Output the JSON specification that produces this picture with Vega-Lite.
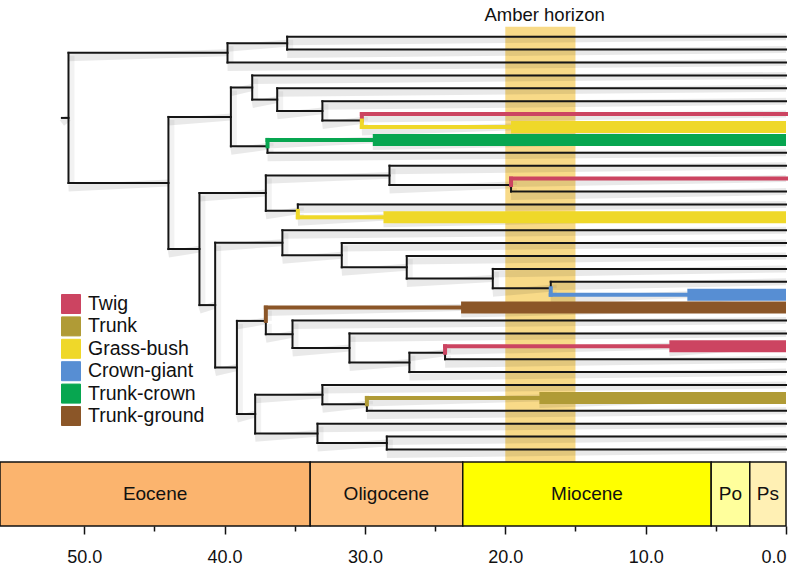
{
  "$schema": "https://vega.github.io/schema/vega-lite/v6.json",
  "autosize": {"type": "none"},
  "width": 786,
  "height": 526,
  "padding": {"left": 0, "top": 0, "right": 24, "bottom": 44},
  "background": "white",
  "config": {"view": {"stroke": null}, "font": "Liberation Sans"},
  "datasets": {
    "tree": [
      {"a":51.59,"b":51.12,"y":6.296,"y2":6.296,"s":"none","w":"line"},
      {"a":51.12,"b":39.79,"y":1.25,"y2":1.25,"s":"none","w":"line"},
      {"a":51.12,"b":44.0,"y":11.342,"y2":11.342,"s":"none","w":"line"},
      {"a":39.79,"b":35.54,"y":0.5,"y2":0.5,"s":"none","w":"line"},
      {"a":35.54,"b":0,"y":0,"y2":0,"s":"none","w":"line"},
      {"a":35.54,"b":0,"y":1,"y2":1,"s":"none","w":"line"},
      {"a":39.79,"b":0,"y":2,"y2":2,"s":"none","w":"line"},
      {"a":44.0,"b":39.55,"y":6.219,"y2":6.219,"s":"none","w":"line"},
      {"a":44.0,"b":41.79,"y":16.465,"y2":16.465,"s":"none","w":"line"},
      {"a":39.55,"b":38.03,"y":3.938,"y2":3.938,"s":"none","w":"line"},
      {"a":39.55,"b":36.94,"y":8.5,"y2":8.5,"s":"none","w":"line"},
      {"a":38.03,"b":0,"y":3,"y2":3,"s":"none","w":"line"},
      {"a":38.03,"b":36.25,"y":4.875,"y2":4.875,"s":"none","w":"line"},
      {"a":36.25,"b":0,"y":4,"y2":4,"s":"none","w":"line"},
      {"a":36.25,"b":33.03,"y":5.75,"y2":5.75,"s":"none","w":"line"},
      {"a":33.03,"b":0,"y":5,"y2":5,"s":"none","w":"line"},
      {"a":33.03,"b":30.22,"y":6.5,"y2":6.5,"s":"none","w":"line"},
      {"a":36.94,"b":0,"y":9,"y2":9,"s":"none","w":"line"},
      {"a":41.79,"b":37.06,"y":12.125,"y2":12.125,"s":"none","w":"line"},
      {"a":41.79,"b":40.67,"y":20.805,"y2":20.805,"s":"none","w":"line"},
      {"a":37.06,"b":28.25,"y":10.75,"y2":10.75,"s":"none","w":"line"},
      {"a":37.06,"b":34.78,"y":13.5,"y2":13.5,"s":"none","w":"line"},
      {"a":28.25,"b":0,"y":10,"y2":10,"s":"none","w":"line"},
      {"a":28.25,"b":19.59,"y":11.5,"y2":11.5,"s":"none","w":"line"},
      {"a":19.59,"b":0,"y":12,"y2":12,"s":"none","w":"line"},
      {"a":34.78,"b":0,"y":13,"y2":13,"s":"none","w":"line"},
      {"a":40.67,"b":35.88,"y":15.969,"y2":15.969,"s":"none","w":"line"},
      {"a":40.67,"b":39.12,"y":25.641,"y2":25.641,"s":"none","w":"line"},
      {"a":35.88,"b":0,"y":15,"y2":15,"s":"none","w":"line"},
      {"a":35.88,"b":31.65,"y":16.938,"y2":16.938,"s":"none","w":"line"},
      {"a":31.65,"b":0,"y":16,"y2":16,"s":"none","w":"line"},
      {"a":31.65,"b":27.02,"y":17.875,"y2":17.875,"s":"none","w":"line"},
      {"a":27.02,"b":0,"y":17,"y2":17,"s":"none","w":"line"},
      {"a":27.02,"b":20.89,"y":18.75,"y2":18.75,"s":"none","w":"line"},
      {"a":20.89,"b":0,"y":18,"y2":18,"s":"none","w":"line"},
      {"a":20.89,"b":16.76,"y":19.5,"y2":19.5,"s":"none","w":"line"},
      {"a":16.76,"b":0,"y":19,"y2":19,"s":"none","w":"line"},
      {"a":39.12,"b":37.06,"y":22.031,"y2":22.031,"s":"none","w":"line"},
      {"a":39.12,"b":37.82,"y":29.25,"y2":29.25,"s":"none","w":"line"},
      {"a":37.06,"b":35.16,"y":23.063,"y2":23.063,"s":"none","w":"line"},
      {"a":35.16,"b":0,"y":22,"y2":22,"s":"none","w":"line"},
      {"a":35.16,"b":31.1,"y":24.125,"y2":24.125,"s":"none","w":"line"},
      {"a":31.1,"b":0,"y":23,"y2":23,"s":"none","w":"line"},
      {"a":31.1,"b":26.83,"y":25.25,"y2":25.25,"s":"none","w":"line"},
      {"a":26.83,"b":24.29,"y":24.5,"y2":24.5,"s":"none","w":"line"},
      {"a":26.83,"b":0,"y":26,"y2":26,"s":"none","w":"line"},
      {"a":24.29,"b":0,"y":25,"y2":25,"s":"none","w":"line"},
      {"a":37.82,"b":33.03,"y":27.75,"y2":27.75,"s":"none","w":"line"},
      {"a":37.82,"b":33.38,"y":30.75,"y2":30.75,"s":"none","w":"line"},
      {"a":33.03,"b":0,"y":27,"y2":27,"s":"none","w":"line"},
      {"a":33.03,"b":29.86,"y":28.5,"y2":28.5,"s":"none","w":"line"},
      {"a":29.86,"b":0,"y":29,"y2":29,"s":"none","w":"line"},
      {"a":33.38,"b":0,"y":30,"y2":30,"s":"none","w":"line"},
      {"a":33.38,"b":28.44,"y":31.5,"y2":31.5,"s":"none","w":"line"},
      {"a":28.44,"b":0,"y":31,"y2":31,"s":"none","w":"line"},
      {"a":28.44,"b":0,"y":32,"y2":32,"s":"none","w":"line"},
      {"a":51.12,"b":51.12,"y":1.25,"y2":11.342,"s":"none","w":"line"},
      {"a":39.79,"b":39.79,"y":0.5,"y2":2,"s":"none","w":"line"},
      {"a":35.54,"b":35.54,"y":0,"y2":1,"s":"none","w":"line"},
      {"a":44.0,"b":44.0,"y":6.219,"y2":16.465,"s":"none","w":"line"},
      {"a":39.55,"b":39.55,"y":3.938,"y2":8.5,"s":"none","w":"line"},
      {"a":38.03,"b":38.03,"y":3,"y2":4.875,"s":"none","w":"line"},
      {"a":36.25,"b":36.25,"y":4,"y2":5.75,"s":"none","w":"line"},
      {"a":33.03,"b":33.03,"y":5,"y2":6.5,"s":"none","w":"line"},
      {"a":36.94,"b":36.94,"y":8.5,"y2":9,"s":"none","w":"line"},
      {"a":41.79,"b":41.79,"y":12.125,"y2":20.805,"s":"none","w":"line"},
      {"a":37.06,"b":37.06,"y":10.75,"y2":13.5,"s":"none","w":"line"},
      {"a":28.25,"b":28.25,"y":10,"y2":11.5,"s":"none","w":"line"},
      {"a":19.59,"b":19.59,"y":11.5,"y2":12,"s":"none","w":"line"},
      {"a":34.78,"b":34.78,"y":13,"y2":13.5,"s":"none","w":"line"},
      {"a":40.67,"b":40.67,"y":15.969,"y2":25.641,"s":"none","w":"line"},
      {"a":35.88,"b":35.88,"y":15,"y2":16.938,"s":"none","w":"line"},
      {"a":31.65,"b":31.65,"y":16,"y2":17.875,"s":"none","w":"line"},
      {"a":27.02,"b":27.02,"y":17,"y2":18.75,"s":"none","w":"line"},
      {"a":20.89,"b":20.89,"y":18,"y2":19.5,"s":"none","w":"line"},
      {"a":16.76,"b":16.76,"y":19,"y2":19.5,"s":"none","w":"line"},
      {"a":39.12,"b":39.12,"y":22.031,"y2":29.25,"s":"none","w":"line"},
      {"a":37.06,"b":37.06,"y":22.031,"y2":23.063,"s":"none","w":"line"},
      {"a":35.16,"b":35.16,"y":22,"y2":24.125,"s":"none","w":"line"},
      {"a":31.1,"b":31.1,"y":23,"y2":25.25,"s":"none","w":"line"},
      {"a":26.83,"b":26.83,"y":24.5,"y2":26,"s":"none","w":"line"},
      {"a":24.29,"b":24.29,"y":24.5,"y2":25,"s":"none","w":"line"},
      {"a":37.82,"b":37.82,"y":27.75,"y2":30.75,"s":"none","w":"line"},
      {"a":33.03,"b":33.03,"y":27,"y2":28.5,"s":"none","w":"line"},
      {"a":29.86,"b":29.86,"y":28.5,"y2":29,"s":"none","w":"line"},
      {"a":33.38,"b":33.38,"y":30,"y2":31.5,"s":"none","w":"line"},
      {"a":28.44,"b":28.44,"y":31,"y2":32,"s":"none","w":"line"},
      {"a":30.22,"b":0,"y":6,"y2":6,"s":"Twig","w":"thin"},
      {"a":30.22,"b":19.59,"y":7,"y2":7,"s":"Grass-bush","w":"thin"},
      {"a":36.94,"b":29.44,"y":8,"y2":8,"s":"Trunk-crown","w":"thin"},
      {"a":19.59,"b":0,"y":11,"y2":11,"s":"Twig","w":"thin"},
      {"a":34.78,"b":28.68,"y":14,"y2":14,"s":"Grass-bush","w":"thin"},
      {"a":16.76,"b":7.03,"y":20,"y2":20,"s":"Crown-giant","w":"thin"},
      {"a":37.06,"b":23.15,"y":21,"y2":21,"s":"Trunk-ground","w":"thin"},
      {"a":24.29,"b":8.31,"y":24,"y2":24,"s":"Twig","w":"thin"},
      {"a":29.86,"b":17.57,"y":28,"y2":28,"s":"Trunk","w":"thin"},
      {"a":30.22,"b":30.22,"y":6,"y2":6.5,"s":"Twig","w":"thin"},
      {"a":30.22,"b":30.22,"y":6.5,"y2":7,"s":"Grass-bush","w":"thin"},
      {"a":36.94,"b":36.94,"y":8,"y2":8.5,"s":"Trunk-crown","w":"thin"},
      {"a":19.59,"b":19.59,"y":11,"y2":11.5,"s":"Twig","w":"thin"},
      {"a":34.78,"b":34.78,"y":13.5,"y2":14,"s":"Grass-bush","w":"thin"},
      {"a":16.76,"b":16.76,"y":19.5,"y2":20,"s":"Crown-giant","w":"thin"},
      {"a":37.06,"b":37.06,"y":21,"y2":22.031,"s":"Trunk-ground","w":"thin"},
      {"a":24.29,"b":24.29,"y":24,"y2":24.5,"s":"Twig","w":"thin"},
      {"a":29.86,"b":29.86,"y":28,"y2":28.5,"s":"Trunk","w":"thin"},
      {"a":19.59,"b":0,"y":7,"y2":7,"s":"Grass-bush","w":"thick"},
      {"a":29.44,"b":0,"y":8,"y2":8,"s":"Trunk-crown","w":"thick"},
      {"a":28.68,"b":0,"y":14,"y2":14,"s":"Grass-bush","w":"thick"},
      {"a":7.03,"b":0,"y":20,"y2":20,"s":"Crown-giant","w":"thick"},
      {"a":23.15,"b":0,"y":21,"y2":21,"s":"Trunk-ground","w":"thick"},
      {"a":8.31,"b":0,"y":24,"y2":24,"s":"Twig","w":"thick"},
      {"a":17.57,"b":0,"y":28,"y2":28,"s":"Trunk","w":"thick"}
    ],
    "epochs": [
      {"name":"Eocene","start":56,"end":33.9,"mid":44.95,"top":32.97,"bot":37.93,"ty":35.45},
      {"name":"Oligocene","start":33.9,"end":23.03,"mid":28.47,"top":32.97,"bot":37.93,"ty":35.45},
      {"name":"Miocene","start":23.03,"end":5.33,"mid":14.18,"top":32.97,"bot":37.93,"ty":35.45},
      {"name":"Po","start":5.33,"end":2.58,"mid":3.955,"top":32.97,"bot":37.93,"ty":35.45},
      {"name":"Ps","start":2.58,"end":0,"mid":1.29,"top":32.97,"bot":37.93,"ty":35.45}
    ],
    "band": [{"a":20,"b":15,"y":-0.775,"y2":32.97,"label":"Amber horizon","lx":17.2,"ly":-1.68}]
  },
  "layer": [
    {
      "data": {"name": "band"},
      "mark": {"type": "rect", "color": "#f8da88"},
      "encoding": {
        "x": {"field": "a", "type": "quantitative", "scale": {"domain": [0, 56], "reverse": true, "nice": false, "zero": false},
          "axis": {"values": [50,45,40,35,30,25,20,15,10,5,0], "labelExpr": "datum.value % 10 == 0 ? format(datum.value, '.1f') : ''", "domain": false, "grid": false, "tickColor": "#111", "tickWidth": 1.5, "tickSize": {"condition": {"test": "datum.value % 10 == 0", "value": 8}, "value": 5}, "labelFontSize": 18, "labelPadding": 14, "labelColor": "#111", "labelFont": "Liberation Sans", "title": null}},
        "x2": {"field": "b"},
        "y": {"field": "y", "type": "quantitative", "scale": {"domain": [-2.845, 37.93], "reverse": true, "nice": false, "zero": false}, "axis": null},
        "y2": {"field": "y2"}
      }
    },
    {
      "data": {"name": "tree"},
      "transform": [{"filter": "datum.y == datum.y2 && datum.w != 'thick'"}],
      "mark": {"type": "rule", "color": "#000", "opacity": 0.085, "strokeWidth": 7, "yOffset": 5},
      "encoding": {
        "x": {"field": "a", "type": "quantitative"},
        "x2": {"field": "b"},
        "y": {"field": "y", "type": "quantitative"},
        "y2": {"field": "y2"}
      }
    },
    {
      "data": {"name": "tree"},
      "transform": [{"filter": "datum.w == 'thick'"}],
      "mark": {"type": "rule", "color": "#000", "opacity": 0.085, "strokeWidth": 4, "yOffset": 8},
      "encoding": {
        "x": {"field": "a", "type": "quantitative"},
        "x2": {"field": "b"},
        "y": {"field": "y", "type": "quantitative"},
        "y2": {"field": "y2"}
      }
    },
    {
      "data": {"name": "tree"},
      "transform": [{"filter": "datum.a == datum.b"}],
      "mark": {"type": "rule", "color": "#000", "opacity": 0.05, "strokeWidth": 5, "xOffset": 3.5, "yOffset": 3},
      "encoding": {
        "x": {"field": "a", "type": "quantitative"},
        "y": {"field": "y", "type": "quantitative"},
        "y2": {"field": "y2"}
      }
    },
    {
      "data": {"name": "tree"},
      "transform": [{"filter": "datum.w == 'line'"}],
      "mark": {"type": "rule", "color": "#151515", "strokeWidth": 2, "strokeCap": "square"},
      "encoding": {
        "x": {"field": "a", "type": "quantitative"},
        "x2": {"field": "b"},
        "y": {"field": "y", "type": "quantitative"},
        "y2": {"field": "y2"}
      }
    },
    {
      "data": {"name": "tree"},
      "transform": [{"filter": "datum.w == 'thin'"}],
      "mark": {"type": "rule", "strokeWidth": 4, "strokeCap": "square"},
      "encoding": {
        "x": {"field": "a", "type": "quantitative"},
        "x2": {"field": "b"},
        "y": {"field": "y", "type": "quantitative"},
        "y2": {"field": "y2"},
        "color": {"field": "s", "type": "nominal",
          "scale": {"domain": ["Twig","Trunk","Grass-bush","Crown-giant","Trunk-crown","Trunk-ground"], "range": ["#cc4461","#b09b36","#efd829","#578ed3","#07a650","#8b5628"]},
          "legend": {"orient": "none", "legendX": 61, "legendY": 294, "title": null, "symbolType": "square", "symbolSize": 361, "symbolStrokeWidth": 1, "labelFontSize": 19.5, "labelFont": "Liberation Sans", "labelColor": "#111", "labelOffset": 7, "rowPadding": -1.6, "padding": 0,
            "encode": {"symbols": {"update": {"fill": {"scale": "color", "field": "value"}, "stroke": {"value": "#3a3a3a"}, "strokeWidth": {"value": 1}, "opacity": {"value": 1}}}}}
        }
      }
    },
    {
      "data": {"name": "tree"},
      "transform": [{"filter": "datum.w == 'thick'"}],
      "mark": {"type": "rule", "strokeWidth": 12, "strokeCap": "butt"},
      "encoding": {
        "x": {"field": "a", "type": "quantitative"},
        "x2": {"field": "b"},
        "y": {"field": "y", "type": "quantitative"},
        "y2": {"field": "y2"},
        "color": {"field": "s", "type": "nominal"}
      }
    },
    {
      "data": {"name": "epochs"},
      "mark": {"type": "rect", "stroke": "#111", "strokeWidth": 1.5},
      "encoding": {
        "x": {"field": "start", "type": "quantitative"},
        "x2": {"field": "end"},
        "y": {"field": "top", "type": "quantitative"},
        "y2": {"field": "bot"},
        "fill": {"field": "name", "type": "nominal", "legend": null,
          "scale": {"domain": ["Eocene","Oligocene","Miocene","Po","Ps"], "range": ["#fbb46e","#fdc07f","#ffff00","#ffff9c","#fff0b4"]}}
      }
    },
    {
      "data": {"name": "epochs"},
      "mark": {"type": "text", "font": "Liberation Sans", "fontSize": 19, "color": "#111", "align": "center", "baseline": "middle"},
      "encoding": {
        "x": {"field": "mid", "type": "quantitative"},
        "y": {"field": "ty", "type": "quantitative"},
        "text": {"field": "name"}
      }
    },
    {
      "data": {"name": "band"},
      "mark": {"type": "text", "font": "Liberation Sans", "fontSize": 18.5, "color": "#111", "align": "center", "baseline": "middle"},
      "encoding": {
        "x": {"field": "lx", "type": "quantitative"},
        "y": {"field": "ly", "type": "quantitative"},
        "text": {"field": "label"}
      }
    }
  ]
}
